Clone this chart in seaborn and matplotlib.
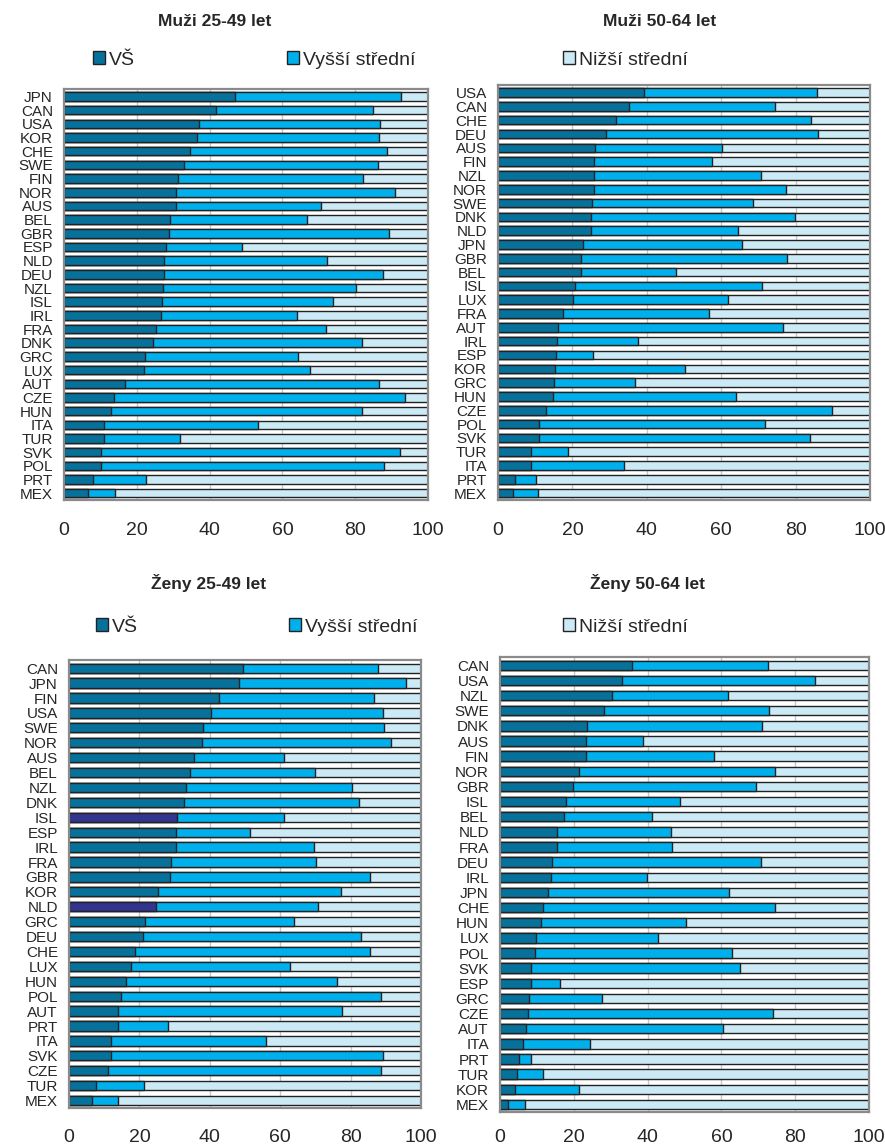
import numpy as np
import pandas as pd
import matplotlib
matplotlib.use("Agg")
import matplotlib.pyplot as plt
import matplotlib.patches as mpatches
import seaborn as sns

sns.set_style("white")
plt.rcParams['font.family'] = ['Liberation Sans', 'DejaVu Sans']

# --- data (podíl v %) ---
muzi_mladi = ['JPN', 'CAN', 'USA', 'KOR', 'CHE', 'SWE', 'FIN', 'NOR', 'AUS', 'BEL',
              'GBR', 'ESP', 'NLD', 'DEU', 'NZL', 'ISL', 'IRL', 'FRA', 'DNK', 'GRC',
              'LUX', 'AUT', 'CZE', 'HUN', 'ITA', 'TUR', 'SVK', 'POL', 'PRT', 'MEX']
muzi_mladi_vs = [47.0, 41.8, 37.2, 36.5, 34.7, 32.9, 31.3, 30.9, 30.7, 29.2,
                 28.9, 28.1, 27.4, 27.4, 27.2, 26.9, 26.6, 25.3, 24.5, 22.3,
                 21.9, 16.8, 13.7, 12.9, 10.9, 10.9, 10.3, 10.3, 8.0, 6.7]
muzi_mladi_ss = [45.5, 43.2, 49.6, 50.0, 54.0, 53.3, 50.8, 60.0, 39.8, 37.6,
                 60.3, 20.7, 44.8, 60.2, 53.0, 47.1, 37.4, 46.8, 57.5, 41.9,
                 45.7, 69.7, 80.0, 68.9, 42.4, 21.1, 82.0, 77.5, 14.5, 7.3]

muzi_starsi = ['USA', 'CAN', 'CHE', 'DEU', 'AUS', 'FIN', 'NZL', 'NOR', 'SWE', 'DNK',
               'NLD', 'JPN', 'GBR', 'BEL', 'ISL', 'LUX', 'FRA', 'AUT', 'IRL', 'ESP',
               'KOR', 'GRC', 'HUN', 'CZE', 'POL', 'SVK', 'TUR', 'ITA', 'PRT', 'MEX']
muzi_starsi_vs = [39.2, 35.2, 31.7, 29.0, 26.1, 25.9, 25.7, 25.7, 25.2, 25.1,
                  25.1, 22.9, 22.4, 22.4, 20.8, 20.1, 17.5, 16.2, 15.9, 15.6,
                  15.2, 15.0, 14.7, 12.9, 11.1, 11.0, 8.9, 8.8, 4.5, 3.9]
muzi_starsi_ss = [46.6, 39.3, 52.5, 57.0, 34.0, 31.5, 45.0, 51.7, 43.3, 54.8,
                  39.3, 42.7, 55.3, 25.5, 50.3, 41.8, 39.2, 60.5, 21.8, 10.0,
                  35.1, 21.9, 49.4, 77.0, 60.7, 72.8, 9.9, 25.0, 5.6, 6.8]

zeny_mlade = ['CAN', 'JPN', 'FIN', 'USA', 'SWE', 'NOR', 'AUS', 'BEL', 'NZL', 'DNK',
              'ISL', 'ESP', 'IRL', 'FRA', 'GBR', 'KOR', 'NLD', 'GRC', 'DEU', 'CHE',
              'LUX', 'HUN', 'POL', 'AUT', 'PRT', 'ITA', 'SVK', 'CZE', 'TUR', 'MEX']
zeny_mlade_vs = [49.3, 48.2, 42.5, 40.4, 38.2, 37.7, 35.5, 34.3, 33.1, 32.8,
                 30.7, 30.5, 30.3, 29.1, 28.7, 25.4, 24.7, 21.5, 21.0, 18.7,
                 17.7, 16.3, 14.9, 13.9, 13.9, 12.0, 12.0, 11.1, 7.6, 6.6]
zeny_mlade_ss = [38.5, 47.4, 44.1, 48.8, 51.2, 53.8, 25.5, 35.6, 47.4, 49.6,
                 30.4, 20.8, 39.2, 41.2, 56.8, 51.9, 46.1, 42.3, 61.9, 66.8,
                 45.0, 59.7, 73.8, 63.6, 14.1, 43.9, 77.1, 77.6, 13.7, 7.3]
zeny_mlade_zvyraznene = ['ISL', 'NLD']

zeny_starsi = ['CAN', 'USA', 'NZL', 'SWE', 'DNK', 'AUS', 'FIN', 'NOR', 'GBR', 'ISL',
               'BEL', 'NLD', 'FRA', 'DEU', 'IRL', 'JPN', 'CHE', 'HUN', 'LUX', 'POL',
               'SVK', 'ESP', 'GRC', 'CZE', 'AUT', 'ITA', 'PRT', 'TUR', 'KOR', 'MEX']
zeny_starsi_vs = [35.8, 33.1, 30.3, 28.3, 23.7, 23.4, 23.3, 21.3, 19.9, 18.0,
                  17.3, 15.4, 15.4, 14.0, 13.9, 13.0, 11.7, 11.0, 9.8, 9.6,
                  8.3, 8.3, 7.8, 7.5, 7.1, 6.1, 5.1, 4.6, 4.2, 2.2]
zeny_starsi_ss = [36.7, 52.4, 31.4, 44.6, 47.2, 15.4, 34.6, 53.1, 49.5, 30.9,
                  23.9, 30.9, 31.2, 56.8, 25.9, 49.1, 62.7, 39.3, 33.1, 53.2,
                  56.8, 7.9, 19.8, 66.5, 53.3, 18.2, 3.4, 7.0, 17.2, 4.7]

labels = ['VŠ', 'Vyšší střední', 'Nižší střední']
c_vs = '#06729C'
c_ss = '#00B0EC'
c_ns = '#CCEAF6'
c_hl = '#33348F'
edge = '#222222'


def draw(ax, countries, vs, ss, highlight=(), xpad=16):
    df = pd.DataFrame({'zeme': countries, 'vs': vs, 'ss': ss})
    df['ns'] = 100 - df['vs'] - df['ss']
    df['do_ss'] = df['vs'] + df['ss']
    df['do_ns'] = df['do_ss'] + df['ns']
    kw = dict(y='zeme', data=df, orient='h', width=0.62, saturation=1,
              edgecolor=edge, linewidth=1.0, errorbar=None, ax=ax)
    sns.barplot(x='do_ns', color=c_ns, **kw)
    sns.barplot(x='do_ss', color=c_ss, **kw)
    pal = {z: (c_hl if z in highlight else c_vs) for z in countries}
    sns.barplot(x='vs', hue='zeme', palette=pal, legend=False, **kw)
    ax.set_xlim(0, 100)
    ax.set_ylim(len(countries) - 0.5, -0.55)
    ax.set_xticks(range(0, 101, 20))
    ax.set_xlabel('')
    ax.set_ylabel('')
    ax.grid(axis='x', color='#c8c8c8', linewidth=1.0)
    ax.set_axisbelow(True)
    for s in ax.spines.values():
        s.set_color('#8a8a8a')
        s.set_linewidth(1.6)
    ax.tick_params(axis='x', length=0, pad=xpad, labelsize=14)
    ax.tick_params(axis='y', length=0, pad=8, labelsize=11)


W, H = 885, 1148
fig = plt.figure(figsize=(W / 100, H / 100), dpi=100)


def rect(x0, y0, x1, y1):
    return [x0 / W, 1 - y1 / H, (x1 - x0) / W, (y1 - y0) / H]


ax1 = fig.add_axes(rect(64, 89, 428, 500))
ax2 = fig.add_axes(rect(498, 85, 870, 500))
ax3 = fig.add_axes(rect(69, 660, 421, 1108))
ax4 = fig.add_axes(rect(500, 657, 869, 1112))

draw(ax1, muzi_mladi, muzi_mladi_vs, muzi_mladi_ss, xpad=16)
draw(ax2, muzi_starsi, muzi_starsi_vs, muzi_starsi_ss, xpad=16)
draw(ax3, zeny_mlade, zeny_mlade_vs, zeny_mlade_ss, zeny_mlade_zvyraznene, xpad=15)
draw(ax4, zeny_starsi, zeny_starsi_vs, zeny_starsi_ss, xpad=12)

titles = [('Muži 25-49 let', 215, 22), ('Muži 50-64 let', 660, 22),
          ('Ženy 25-49 let', 209, 583), ('Ženy 50-64 let', 648, 583)]
for t, x, y in titles:
    fig.text(x / W, 1 - y / H, t, ha='center', va='center',
             fontsize=12.5, fontweight='bold')

# legendy nad horní a dolní dvojicí grafů
colors = [c_vs, c_ss, c_ns]
for y, xs in [(60, (93, 287, 563)), (627, (96, 289, 563))]:
    for lab, col, x in zip(labels, colors, xs):
        h = mpatches.Patch(facecolor=col, edgecolor=edge, linewidth=1.0, label=lab)
        fig.legend(handles=[h], loc='center left', bbox_to_anchor=(x / W, 1 - y / H),
                   frameon=False, fontsize=14, handlelength=0.62, handleheight=0.62,
                   handletextpad=0.2, borderpad=0, borderaxespad=0)

fig.savefig('out.png', dpi=100)
